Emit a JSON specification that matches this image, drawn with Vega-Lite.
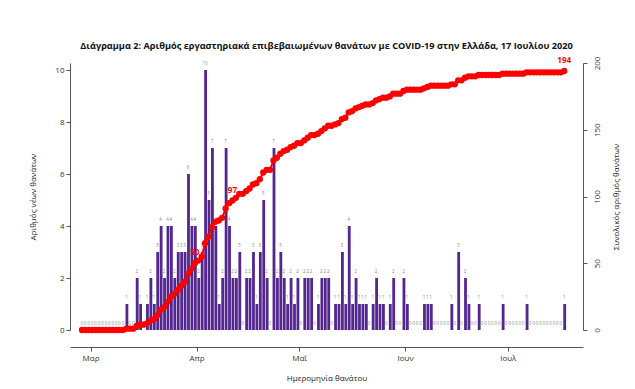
{
  "$schema": "https://vega.github.io/schema/vega-lite/v6.json",
  "width": 513,
  "height": 267,
  "autosize": {"type": "none"},
  "padding": {"left": 70, "top": 63, "right": 52, "bottom": 59},
  "background": "white",
  "config": {
    "view": {"stroke": null},
    "font": "Open Sans",
    "axis": {
      "domainColor": "#555555",
      "tickColor": "#555555",
      "labelColor": "#333333",
      "titleColor": "#222222",
      "labelFont": "Open Sans",
      "titleFont": "Open Sans",
      "labelFontSize": 8,
      "titleFontSize": 8,
      "titleFontWeight": "normal",
      "tickSize": 4,
      "grid": false
    }
  },
  "title": {
    "text": "Διάγραμμα 2: Αριθμός εργαστηριακά επιβεβαιωμένων θανάτων με COVID-19 στην Ελλάδα, 17 Ιουλίου 2020",
    "font": "Open Sans",
    "fontSize": 9.2,
    "fontWeight": "bold",
    "color": "#111111",
    "anchor": "middle",
    "frame": "group",
    "baseline": "alphabetic",
    "offset": -2
  },
  "datasets": {
    "daily": [
      {"date": "2020-02-27", "n": 0, "cum": 0},
      {"date": "2020-02-28", "n": 0, "cum": 0},
      {"date": "2020-02-29", "n": 0, "cum": 0},
      {"date": "2020-03-01", "n": 0, "cum": 0},
      {"date": "2020-03-02", "n": 0, "cum": 0},
      {"date": "2020-03-03", "n": 0, "cum": 0},
      {"date": "2020-03-04", "n": 0, "cum": 0},
      {"date": "2020-03-05", "n": 0, "cum": 0},
      {"date": "2020-03-06", "n": 0, "cum": 0},
      {"date": "2020-03-07", "n": 0, "cum": 0},
      {"date": "2020-03-08", "n": 0, "cum": 0},
      {"date": "2020-03-09", "n": 0, "cum": 0},
      {"date": "2020-03-10", "n": 0, "cum": 0},
      {"date": "2020-03-11", "n": 1, "cum": 1},
      {"date": "2020-03-12", "n": 0, "cum": 1},
      {"date": "2020-03-13", "n": 0, "cum": 1},
      {"date": "2020-03-14", "n": 2, "cum": 3},
      {"date": "2020-03-15", "n": 1, "cum": 4},
      {"date": "2020-03-16", "n": 0, "cum": 4},
      {"date": "2020-03-17", "n": 1, "cum": 5},
      {"date": "2020-03-18", "n": 2, "cum": 7},
      {"date": "2020-03-19", "n": 1, "cum": 8},
      {"date": "2020-03-20", "n": 3, "cum": 11},
      {"date": "2020-03-21", "n": 4, "cum": 15},
      {"date": "2020-03-22", "n": 2, "cum": 17},
      {"date": "2020-03-23", "n": 4, "cum": 21},
      {"date": "2020-03-24", "n": 4, "cum": 25},
      {"date": "2020-03-25", "n": 2, "cum": 27},
      {"date": "2020-03-26", "n": 3, "cum": 30},
      {"date": "2020-03-27", "n": 3, "cum": 33},
      {"date": "2020-03-28", "n": 3, "cum": 36},
      {"date": "2020-03-29", "n": 6, "cum": 42},
      {"date": "2020-03-30", "n": 4, "cum": 46},
      {"date": "2020-03-31", "n": 4, "cum": 50},
      {"date": "2020-04-01", "n": 2, "cum": 52},
      {"date": "2020-04-02", "n": 3, "cum": 55},
      {"date": "2020-04-03", "n": 10, "cum": 65},
      {"date": "2020-04-04", "n": 5, "cum": 70},
      {"date": "2020-04-05", "n": 7, "cum": 77},
      {"date": "2020-04-06", "n": 4, "cum": 81},
      {"date": "2020-04-07", "n": 1, "cum": 82},
      {"date": "2020-04-08", "n": 2, "cum": 84},
      {"date": "2020-04-09", "n": 7, "cum": 91},
      {"date": "2020-04-10", "n": 4, "cum": 95},
      {"date": "2020-04-11", "n": 2, "cum": 97},
      {"date": "2020-04-12", "n": 2, "cum": 99},
      {"date": "2020-04-13", "n": 3, "cum": 102},
      {"date": "2020-04-14", "n": 0, "cum": 102},
      {"date": "2020-04-15", "n": 2, "cum": 104},
      {"date": "2020-04-16", "n": 2, "cum": 106},
      {"date": "2020-04-17", "n": 3, "cum": 109},
      {"date": "2020-04-18", "n": 1, "cum": 110},
      {"date": "2020-04-19", "n": 3, "cum": 113},
      {"date": "2020-04-20", "n": 5, "cum": 118},
      {"date": "2020-04-21", "n": 2, "cum": 120},
      {"date": "2020-04-22", "n": 0, "cum": 120},
      {"date": "2020-04-23", "n": 7, "cum": 127},
      {"date": "2020-04-24", "n": 2, "cum": 129},
      {"date": "2020-04-25", "n": 3, "cum": 132},
      {"date": "2020-04-26", "n": 2, "cum": 134},
      {"date": "2020-04-27", "n": 1, "cum": 135},
      {"date": "2020-04-28", "n": 2, "cum": 137},
      {"date": "2020-04-29", "n": 1, "cum": 138},
      {"date": "2020-04-30", "n": 2, "cum": 140},
      {"date": "2020-05-01", "n": 0, "cum": 140},
      {"date": "2020-05-02", "n": 2, "cum": 142},
      {"date": "2020-05-03", "n": 2, "cum": 144},
      {"date": "2020-05-04", "n": 2, "cum": 146},
      {"date": "2020-05-05", "n": 0, "cum": 146},
      {"date": "2020-05-06", "n": 1, "cum": 147},
      {"date": "2020-05-07", "n": 2, "cum": 149},
      {"date": "2020-05-08", "n": 2, "cum": 151},
      {"date": "2020-05-09", "n": 2, "cum": 153},
      {"date": "2020-05-10", "n": 0, "cum": 153},
      {"date": "2020-05-11", "n": 1, "cum": 154},
      {"date": "2020-05-12", "n": 1, "cum": 155},
      {"date": "2020-05-13", "n": 3, "cum": 158},
      {"date": "2020-05-14", "n": 1, "cum": 159},
      {"date": "2020-05-15", "n": 4, "cum": 163},
      {"date": "2020-05-16", "n": 1, "cum": 164},
      {"date": "2020-05-17", "n": 2, "cum": 166},
      {"date": "2020-05-18", "n": 1, "cum": 167},
      {"date": "2020-05-19", "n": 1, "cum": 168},
      {"date": "2020-05-20", "n": 1, "cum": 169},
      {"date": "2020-05-21", "n": 0, "cum": 169},
      {"date": "2020-05-22", "n": 1, "cum": 170},
      {"date": "2020-05-23", "n": 2, "cum": 172},
      {"date": "2020-05-24", "n": 1, "cum": 173},
      {"date": "2020-05-25", "n": 1, "cum": 174},
      {"date": "2020-05-26", "n": 0, "cum": 174},
      {"date": "2020-05-27", "n": 1, "cum": 175},
      {"date": "2020-05-28", "n": 2, "cum": 177},
      {"date": "2020-05-29", "n": 0, "cum": 177},
      {"date": "2020-05-30", "n": 0, "cum": 177},
      {"date": "2020-05-31", "n": 2, "cum": 179},
      {"date": "2020-06-01", "n": 1, "cum": 180},
      {"date": "2020-06-02", "n": 0, "cum": 180},
      {"date": "2020-06-03", "n": 0, "cum": 180},
      {"date": "2020-06-04", "n": 0, "cum": 180},
      {"date": "2020-06-05", "n": 0, "cum": 180},
      {"date": "2020-06-06", "n": 1, "cum": 181},
      {"date": "2020-06-07", "n": 1, "cum": 182},
      {"date": "2020-06-08", "n": 1, "cum": 183},
      {"date": "2020-06-09", "n": 0, "cum": 183},
      {"date": "2020-06-10", "n": 0, "cum": 183},
      {"date": "2020-06-11", "n": 0, "cum": 183},
      {"date": "2020-06-12", "n": 0, "cum": 183},
      {"date": "2020-06-13", "n": 0, "cum": 183},
      {"date": "2020-06-14", "n": 1, "cum": 184},
      {"date": "2020-06-15", "n": 0, "cum": 184},
      {"date": "2020-06-16", "n": 3, "cum": 187},
      {"date": "2020-06-17", "n": 0, "cum": 187},
      {"date": "2020-06-18", "n": 2, "cum": 189},
      {"date": "2020-06-19", "n": 1, "cum": 190},
      {"date": "2020-06-20", "n": 0, "cum": 190},
      {"date": "2020-06-21", "n": 0, "cum": 190},
      {"date": "2020-06-22", "n": 1, "cum": 191},
      {"date": "2020-06-23", "n": 0, "cum": 191},
      {"date": "2020-06-24", "n": 0, "cum": 191},
      {"date": "2020-06-25", "n": 0, "cum": 191},
      {"date": "2020-06-26", "n": 0, "cum": 191},
      {"date": "2020-06-27", "n": 0, "cum": 191},
      {"date": "2020-06-28", "n": 0, "cum": 191},
      {"date": "2020-06-29", "n": 1, "cum": 192},
      {"date": "2020-06-30", "n": 0, "cum": 192},
      {"date": "2020-07-01", "n": 0, "cum": 192},
      {"date": "2020-07-02", "n": 0, "cum": 192},
      {"date": "2020-07-03", "n": 0, "cum": 192},
      {"date": "2020-07-04", "n": 0, "cum": 192},
      {"date": "2020-07-05", "n": 0, "cum": 192},
      {"date": "2020-07-06", "n": 1, "cum": 193},
      {"date": "2020-07-07", "n": 0, "cum": 193},
      {"date": "2020-07-08", "n": 0, "cum": 193},
      {"date": "2020-07-09", "n": 0, "cum": 193},
      {"date": "2020-07-10", "n": 0, "cum": 193},
      {"date": "2020-07-11", "n": 0, "cum": 193},
      {"date": "2020-07-12", "n": 0, "cum": 193},
      {"date": "2020-07-13", "n": 0, "cum": 193},
      {"date": "2020-07-14", "n": 0, "cum": 193},
      {"date": "2020-07-15", "n": 0, "cum": 193},
      {"date": "2020-07-16", "n": 0, "cum": 193},
      {"date": "2020-07-17", "n": 1, "cum": 194}
    ],
    "highlights": [
      {"date": "2020-03-31", "cum": 50},
      {"date": "2020-04-11", "cum": 97},
      {"date": "2020-07-17", "cum": 194}
    ]
  },
  "encoding": {
    "x": {
      "field": "date",
      "timeUnit": "utcyearmonthdate",
      "type": "temporal",
      "scale": {
        "type": "utc",
        "domain": [
          {"year": 2020, "month": 2, "date": 24, "utc": true},
          {"year": 2020, "month": 7, "date": 23, "utc": true}
        ]
      },
      "axis": {
        "title": "Ημερομηνία θανάτου",
        "values": [
          {"year": 2020, "month": 3, "date": 1, "utc": true},
          {"year": 2020, "month": 4, "date": 1, "utc": true},
          {"year": 2020, "month": 5, "date": 1, "utc": true},
          {"year": 2020, "month": 6, "date": 1, "utc": true},
          {"year": 2020, "month": 7, "date": 1, "utc": true}
        ],
        "labelExpr": "['Ιαν','Φεβ','Μαρ','Απρ','Μαΐ','Ιουν','Ιουλ','Αυγ'][utcmonth(datum.value)]",
        "offset": 17,
        "labelPadding": 3,
        "titlePadding": 12,
        "labelFlush": false,
        "labelOverlap": false
      }
    }
  },
  "layer": [
    {
      "data": {"name": "daily"},
      "encoding": {
        "y": {
          "field": "n",
          "type": "quantitative",
          "scale": {"domain": [0, 10.27], "nice": false, "zero": true},
          "axis": {
            "title": "Αριθμός νέων θανάτων",
            "values": [0, 2, 4, 6, 8, 10],
            "labelPadding": 2,
            "titlePadding": 17
          }
        }
      },
      "layer": [
        {
          "mark": {"type": "bar", "color": "#54278F", "binSpacing": 0.6},
          "encoding": {}
        },
        {
          "mark": {"type": "text", "fontSize": 4.5, "color": "#888888", "dy": -6, "baseline": "middle"},
          "encoding": {
            "x": {"field": "date", "timeUnit": "utcyearmonthdate", "type": "temporal", "bandPosition": 0.5},
            "text": {"field": "n", "type": "quantitative"}
          }
        }
      ]
    },
    {
      "encoding": {
        "x": {"field": "date", "timeUnit": "utcyearmonthdate", "type": "temporal", "bandPosition": 0.5},
        "y": {
          "field": "cum",
          "type": "quantitative",
          "scale": {"domain": [0, 200], "nice": false},
          "axis": {
            "orient": "right",
            "title": "Συνολικός αριθμός θανάτων",
            "values": [0, 50, 100, 150, 200],
            "labelAngle": 270,
            "labelAlign": "center",
            "labelBaseline": "top",
            "labelPadding": 6,
            "titleAngle": 270,
            "titlePadding": 19
          }
        }
      },
      "layer": [
        {
          "data": {"name": "daily"},
          "mark": {"type": "line", "color": "#FF0000", "strokeWidth": 2},
          "encoding": {}
        },
        {
          "data": {"name": "daily"},
          "mark": {"type": "point", "filled": true, "color": "#FF0000", "size": 40, "opacity": 1},
          "encoding": {}
        },
        {
          "data": {"name": "highlights"},
          "mark": {"type": "text", "fontSize": 8, "fontWeight": "bold", "color": "#FF0000", "dy": -10, "baseline": "middle"},
          "encoding": {
            "text": {"field": "cum", "type": "quantitative"}
          }
        }
      ]
    }
  ],
  "resolve": {"scale": {"y": "independent"}, "axis": {"y": "independent"}}
}
